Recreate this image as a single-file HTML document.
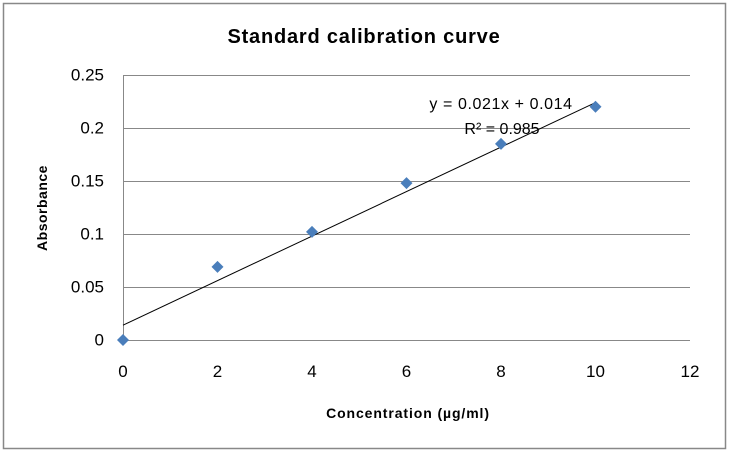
<!DOCTYPE html>
<html><head><style>
body{margin:0;background:#fff;}
svg{display:block;font-family:"Liberation Sans",sans-serif;}
</style></head><body>
<svg width="729" height="452">
<rect x="3.5" y="3.5" width="722" height="445" fill="#fff" stroke="#888" stroke-width="1.5"/>
<text x="364" y="43" text-anchor="middle" font-size="20" font-weight="bold" letter-spacing="0.8" fill="#000">Standard calibration curve</text>
<g id="grid"></g>
<g id="axes"></g>
<g id="marks"></g>
<text x="408" y="418" text-anchor="middle" font-size="14" font-weight="bold" letter-spacing="0.9">Concentration (µg/ml)</text>
<text transform="translate(47,208) rotate(-90)" text-anchor="middle" font-size="14" font-weight="bold" letter-spacing="0.5">Absorbance</text>
<text x="501" y="109" text-anchor="middle" font-size="16" letter-spacing="0.6">y = 0.021x + 0.014</text>
<text x="502" y="134" text-anchor="middle" font-size="16">R² = 0.985</text>
</svg>
<script>
const xTicks=[0,2,4,6,8,10,12];
const yTicks=[0,0.05,0.1,0.15,0.2,0.25];
const yTickLabels=["0","0.05","0.1","0.15","0.2","0.25"];
const concentrations=[0,2,4,6,8,10];
const absorbances=[0,0.069,0.102,0.148,0.185,0.220];
const slope=0.021, intercept=0.014;
const X0=123,X1=690,Y0=340,Y1=75;
const sx=v=>X0+(v-0)/(12-0)*(X1-X0);
const sy=v=>Y0-(v-0)/(0.25-0)*(Y0-Y1);
const NS="http://www.w3.org/2000/svg";
function mk(tag,attrs,parent,text){const e=document.createElementNS(NS,tag);for(const k in attrs)e.setAttribute(k,attrs[k]);if(text!==undefined)e.textContent=text;document.getElementById(parent).appendChild(e);return e;}
yTicks.forEach((t,i)=>{
  const y=Math.round(sy(t))+0.5;
  if(t>0){const g=mk('line',{x1:X0,x2:X1,y1:y,y2:y,stroke:'#888','stroke-width':1},'grid');
  
  }
  const l=mk('text',{x:104,y:y+5,'text-anchor':'end','font-size':17},'axes',yTickLabels[i]);
  
  
});
xTicks.forEach(t=>{
  const l=mk('text',{x:sx(t),y:377,'text-anchor':'middle','font-size':17},'axes',String(t));
  
  
});
const ax=mk('line',{x1:X0+0.5,x2:X0+0.5,y1:Y1,y2:Y0,stroke:'#888'},'axes');


const ax2=mk('line',{x1:X0,x2:X1,y1:Y0+0.5,y2:Y0+0.5,stroke:'#888'},'axes');


const xs=concentrations[0],xe=concentrations[concentrations.length-1];
const tl=mk('line',{x1:sx(xs),y1:sy(slope*xs+intercept),x2:sx(xe),y2:sy(slope*xe+intercept),stroke:'#000','stroke-width':1},'marks');


concentrations.forEach((c,i)=>{
  const x=sx(c),y=sy(absorbances[i]),r=6;
  const p=mk('polygon',{points:`${x},${y-r} ${x+r},${y} ${x},${y+r} ${x-r},${y}`,fill:'#4a7ebb'},'marks');
  
  
});
</script>
</body></html>
